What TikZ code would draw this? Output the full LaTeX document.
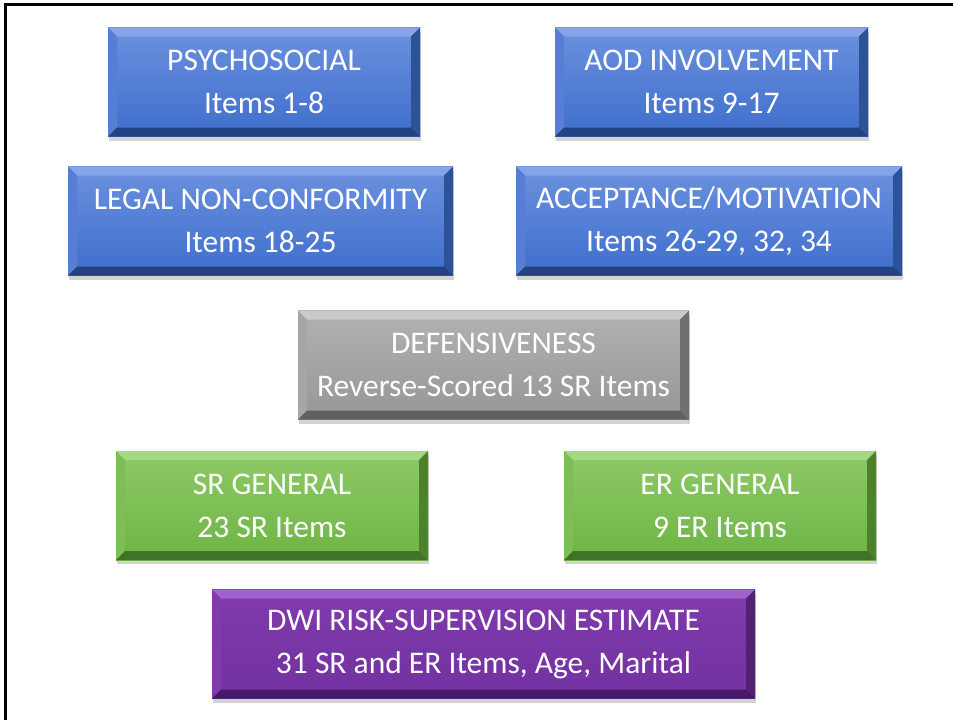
\documentclass[tikz,border=0pt]{standalone}
\usepackage{fontspec}
\setmainfont{Carlito}
\usepackage{tikz}
\usetikzlibrary{shadows}
\definecolor{bluetop}{RGB}{108,145,222}
\definecolor{bluebot}{RGB}{62,110,205}
\definecolor{bluelit}{RGB}{132,166,232}
\definecolor{blueside}{RGB}{86,126,212}
\definecolor{bluedrk}{RGB}{46,82,152}
\definecolor{bluedeep}{RGB}{36,66,130}
\definecolor{greentop}{RGB}{142,202,102}
\definecolor{greenbot}{RGB}{110,180,70}
\definecolor{greenlit}{RGB}{166,216,132}
\definecolor{greenside}{RGB}{126,190,86}
\definecolor{greendrk}{RGB}{76,130,46}
\definecolor{greendeep}{RGB}{64,114,40}
\definecolor{greytop}{RGB}{178,178,178}
\definecolor{greybot}{RGB}{150,150,150}
\definecolor{greylit}{RGB}{202,202,202}
\definecolor{greyside}{RGB}{166,166,166}
\definecolor{greydrk}{RGB}{112,112,112}
\definecolor{greydeep}{RGB}{96,96,96}
\definecolor{purptop}{RGB}{128,58,172}
\definecolor{purpbot}{RGB}{114,50,160}
\definecolor{purplit}{RGB}{162,98,206}
\definecolor{purpside}{RGB}{128,58,172}
\definecolor{purpdrk}{RGB}{82,32,116}
\definecolor{purpdeep}{RGB}{70,26,100}
\tikzset{
		scale box/.style = {rectangle, inner sep = 0pt, minimum height = 109pt,
			text = white, align = center, font = \fontsize{31.5}{43}\selectfont,
			drop shadow = {opacity = 0.35, shadow xshift = 1pt, shadow yshift = -4pt}},
		bevel/.style = {scale box, top color = #1top, bottom color = #1bot,
			path picture = {
				\fill[#1lit]  (path picture bounding box.north west) -- (path picture bounding box.north east)
					-- ([shift = {(-9pt,-9pt)}]path picture bounding box.north east)
					-- ([shift = {(9pt,-9pt)}]path picture bounding box.north west) -- cycle;
				\fill[#1side] (path picture bounding box.north west) -- ([shift = {(9pt,-9pt)}]path picture bounding box.north west)
					-- ([shift = {(9pt,9pt)}]path picture bounding box.south west)
					-- (path picture bounding box.south west) -- cycle;
				\fill[#1drk]  (path picture bounding box.north east) -- ([shift = {(-9pt,-9pt)}]path picture bounding box.north east)
					-- ([shift = {(-9pt,9pt)}]path picture bounding box.south east)
					-- (path picture bounding box.south east) -- cycle;
				\fill[#1deep] (path picture bounding box.south west) -- ([shift = {(9pt,9pt)}]path picture bounding box.south west)
					-- ([shift = {(-9pt,9pt)}]path picture bounding box.south east)
					-- (path picture bounding box.south east) -- cycle;
			}}
	}
\begin{document}
\begin{tikzpicture}[x = 1pt, y = -1pt]
				\useasboundingbox (0,0) rectangle (953,720);
				\draw[line width = 3pt] (5,720) -- (5,4) -- (953,4);

				\node[bevel = blue,   minimum width = 312pt] (psy)    at (264,82)    {PSYCHOSOCIAL\\Items 1-8};
				\node[bevel = blue,   minimum width = 313pt] (aod)    at (711.5,82)  {AOD INVOLVEMENT\\Items 9-17};
				\node[bevel = blue,   minimum width = 385pt] (legal)  at (260.5,221) {LEGAL NON-CONFORMITY\\Items 18-25};
				\node[bevel = blue,   minimum width = 386pt] (accept) at (709,221)   {ACCEPTANCE/MOTIVATION\\Items 26-29, 32, 34};
				\node[bevel = grey,   minimum width = 391pt] (defens) at (493.5,365) {DEFENSIVENESS\\Reverse-Scored 13 SR Items};
				\node[bevel = green,  minimum width = 312pt] (srgen)  at (272,505.5) {SR GENERAL\\23 SR Items};
				\node[bevel = green,  minimum width = 312pt] (ergen)  at (720,505.5) {ER GENERAL\\9 ER Items};
				\node[bevel = purp,   minimum width = 543pt] (dwi)    at (483.5,644) {DWI RISK-SUPERVISION ESTIMATE\\31 SR and ER Items, Age, Marital};
			\end{tikzpicture}
\end{document}
